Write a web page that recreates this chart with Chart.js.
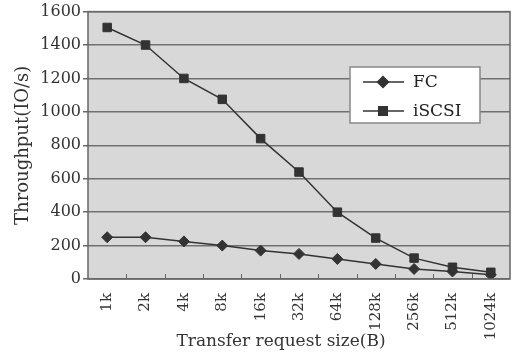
<!DOCTYPE html>
<html>
<head>
<meta charset="utf-8">
<script src="https://cdn.jsdelivr.net/npm/chart.js@4/dist/chart.umd.min.js"></script>
<style>
  html, body { margin: 0; padding: 0; background: #fff; }
  #wrap { width: 517px; height: 360px; }
</style>
</head>
<body>
<div id="wrap"><canvas id="grafico"></canvas></div>
<script>
const tamanos = ["1k", "2k", "4k", "8k", "16k", "32k", "64k", "128k", "256k", "512k", "1024k"];
const fc = [250, 250, 225, 200, 170, 150, 120, 90, 60, 45, 25];
const iscsi = [1505, 1400, 1200, 1075, 840, 640, 400, 245, 125, 70, 40];
const ticksY = [0, 200, 400, 600, 800, 1000, 1200, 1400, 1600];

const serif = "'DejaVu Serif', 'Liberation Serif', serif";
const tinta = "#333";

// fondo gris del area de trazado
const fondo = {
  id: "fondo",
  beforeDraw(chart) {
    const { ctx, chartArea: a } = chart;
    ctx.save();
    ctx.fillStyle = "#d8d8d8";
    ctx.fillRect(a.left, a.top, a.right - a.left, a.bottom - a.top);
    ctx.restore();
  },
  afterDraw(chart) {
    const { ctx, chartArea: a, scales } = chart;
    ctx.save();
    ctx.strokeStyle = "#666";
    ctx.lineWidth = 1.5;
    ctx.strokeRect(a.left, a.top, a.right - a.left, a.bottom - a.top);
    // marcas pequeñas entre categorias
    const x = scales.x;
    ctx.lineWidth = 1;
    for (let i = 1; i < tamanos.length; i++) {
      const px = (x.getPixelForValue(i - 1) + x.getPixelForValue(i)) / 2;
      ctx.beginPath();
      ctx.moveTo(Math.round(px) + 0.5, a.bottom);
      ctx.lineTo(Math.round(px) + 0.5, a.bottom - 5);
      ctx.stroke();
    }
    // titulo del eje x, algo a la izquierda del centro como en el original
    ctx.fillStyle = "#333";
    ctx.font = "17px " + serif;
    ctx.textAlign = "center";
    ctx.textBaseline = "middle";
    ctx.fillText("Transfer request size(B)", (a.left + a.right) / 2 - 18, 342);
    ctx.restore();
  },
};

// leyenda dentro del grafico
const leyenda = {
  id: "leyenda",
  afterDatasetsDraw(chart) {
    const { ctx } = chart;
    const bx = 350, by = 67, bw = 130, bh = 56;
    ctx.save();
    ctx.fillStyle = "#fff";
    ctx.fillRect(bx, by, bw, bh);
    ctx.strokeStyle = "#888";
    ctx.lineWidth = 1.5;
    ctx.strokeRect(bx, by, bw, bh);
    chart.data.datasets.forEach((ds, i) => {
      const y = by + 15 + i * 29;
      ctx.strokeStyle = tinta;
      ctx.fillStyle = tinta;
      ctx.lineWidth = 1.5;
      ctx.beginPath();
      ctx.moveTo(bx + 13, y);
      ctx.lineTo(bx + 54, y);
      ctx.stroke();
      Chart.helpers.drawPoint(ctx, { pointStyle: ds.pointStyle, radius: ds.pointRadius, borderWidth: 1 }, bx + 33, y);
      ctx.fillStyle = "#222";
      ctx.font = "17px " + serif;
      ctx.textBaseline = "middle";
      ctx.fillText(ds.label, bx + 63, y + 1);
    });
    ctx.restore();
  },
};

new Chart(document.getElementById("grafico"), {
  type: "line",
  data: {
    labels: tamanos,
    datasets: [
      {
        label: "FC",
        data: fc,
        borderColor: tinta,
        backgroundColor: tinta,
        borderWidth: 1.5,
        pointStyle: "rectRot",
        pointRadius: 5.5,
        pointBorderWidth: 1,
        tension: 0,
      },
      {
        label: "iSCSI",
        data: iscsi,
        borderColor: tinta,
        backgroundColor: tinta,
        borderWidth: 1.5,
        pointStyle: "rect",
        pointRadius: 6,
        pointBorderWidth: 1,
        tension: 0,
      },
    ],
  },
  options: {
    responsive: true,
    maintainAspectRatio: false,
    animation: false,
    layout: { padding: { top: 10, right: 6, left: 0, bottom: 6 } },
    plugins: {
      legend: { display: false },
      tooltip: { enabled: false },
    },
    scales: {
      x: {
        offset: true,
        grid: { display: false },
        border: { display: false },
        afterFit: (s) => { s.height = 75; },
        ticks: {
          minRotation: 90,
          maxRotation: 90,
          color: "#333",
          padding: 6,
          font: { family: serif, size: 15 },
        },
      },
      y: {
        min: 0,
        max: 1600,
        afterBuildTicks: (s) => { s.ticks = ticksY.map((v) => ({ value: v })); },
        afterFit: (s) => { s.width = 88; },
        grid: { color: "#707070", lineWidth: 1.5, drawTicks: true, tickLength: 5, tickColor: "#666" },
        border: { display: false },
        ticks: {
          color: "#333",
          padding: 2,
          callback: (v) => String(v),
          font: { family: serif, size: 16 },
        },
        title: {
          display: true,
          text: "Throughput(IO/s)",
          color: "#333",
          padding: { top: 13, bottom: 0 },
          font: { family: serif, size: 18 },
        },
      },
    },
  },
  plugins: [fondo, leyenda],
});
</script>
</body>
</html>
